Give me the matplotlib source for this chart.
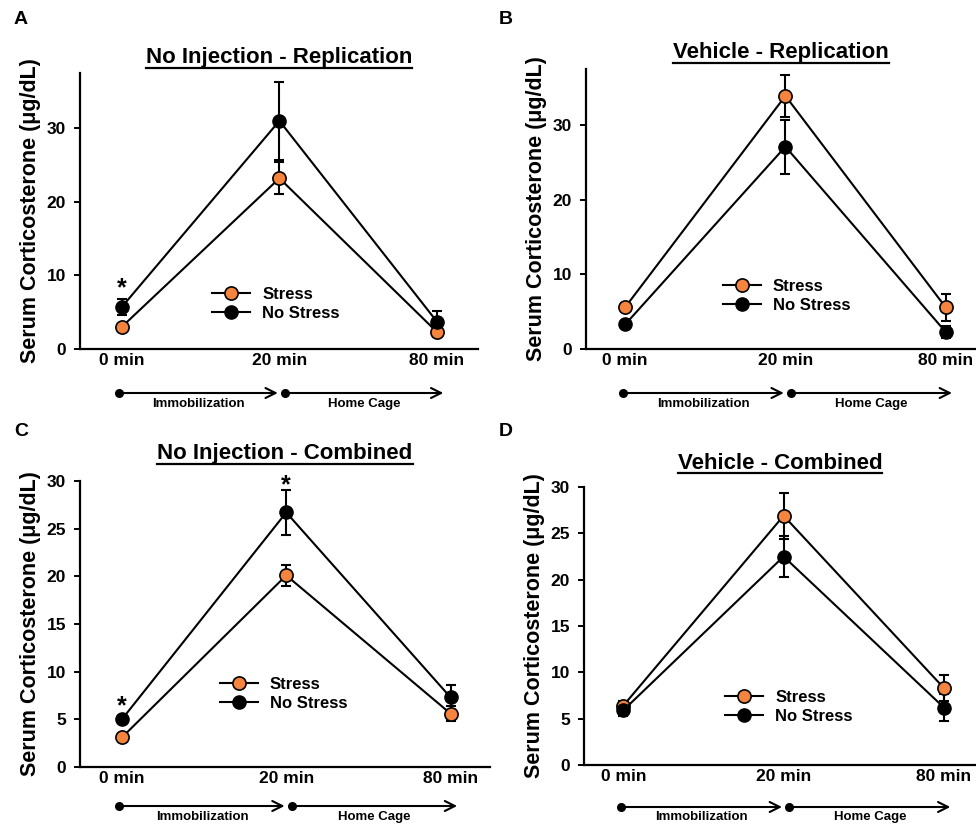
import numpy as np
import matplotlib.pyplot as plt
from matplotlib.transforms import blended_transform_factory
from matplotlib.lines import Line2D

plt.rcParams['font.family'] = ['Liberation Sans', 'DejaVu Sans']
plt.rcParams['font.weight'] = 'bold'

# data
times = ['0 min', '20 min', '80 min']
panel_letters = ['A', 'B', 'C', 'D']
titles = ['No Injection - Replication', 'Vehicle - Replication',
          'No Injection - Combined', 'Vehicle - Combined']

stress_mean = [[3.0, 23.2, 2.3], [5.6, 33.9, 5.6], [3.1, 20.1, 5.6], [6.4, 26.9, 8.3]]
stress_err = [[0.4, 2.2, 0.5], [0.5, 2.8, 1.8], [0.4, 1.1, 0.8], [0.5, 2.5, 1.4]]
nostress_mean = [[5.7, 31.0, 3.7], [3.3, 27.1, 2.3], [5.0, 26.7, 7.3], [5.9, 22.5, 6.2]]
nostress_err = [[1.1, 5.3, 1.4], [0.5, 3.6, 0.8], [0.4, 2.4, 1.3], [0.6, 2.2, 1.5]]

# significance stars (x index, y value)
star_x = [[0], [], [0, 1], []]
star_y = [[8.2], [], [6.4, 29.6], []]

ymax = [37.5, 37.5, 30, 30]
ystep = [10, 10, 5, 5]

W, H = 976, 826
orange = '#F5843F'

# axes rectangles in pixels: left, right, top, bottom
rects_px = [(80, 478, 73, 349), (586, 976, 69, 349), (80, 490, 481, 767), (584, 976, 487, 765)]
xlims = [(-0.265, 2.26), (-0.245, 2.19), (-0.255, 2.24), (-0.245, 2.2)]
title_y = [1.055, 1.058, 1.095, 1.086]
legend_anchor = [(0.332, 0.163), (0.351, 0.189), (0.341, 0.256), (0.36, 0.208)]
timeline_off = [(44, 55), (44, 55), (39, 50), (42, 52)]

fig = plt.figure(figsize=(W / 100, H / 100), dpi=100)
axes = []
for i in range(4):
    l, r, t, b = rects_px[i]
    ax = fig.add_axes([l / W, 1 - b / H, (r - l) / W, (b - t) / H])
    axes.append(ax)
    x = np.arange(len(times))

    ax.errorbar(x, stress_mean[i], yerr=stress_err[i], fmt='none', ecolor='black',
                elinewidth=1.5, capsize=3.5, capthick=1.5, zorder=2, clip_on=False)
    ax.errorbar(x, nostress_mean[i], yerr=nostress_err[i], fmt='none', ecolor='black',
                elinewidth=1.5, capsize=3.5, capthick=1.5, zorder=2, clip_on=False)
    l1, = ax.plot(x, stress_mean[i], '-o', color='black', lw=1.5, mfc=orange, mec='black',
                  mew=1.2, ms=9.5, zorder=3, label='Stress', clip_on=False)
    l2, = ax.plot(x, nostress_mean[i], '-o', color='black', lw=1.5, mfc='black', mec='black',
                  ms=9.5, zorder=4, label='No Stress', clip_on=False)

    for sx, sy in zip(star_x[i], star_y[i]):
        ax.text(sx, sy, '*', ha='center', va='center', fontsize=18, fontweight='bold')

    ax.set_xlim(*xlims[i])
    ax.set_ylim(0, ymax[i])
    ax.set_yticks(np.arange(0, ymax[i] + 0.1, ystep[i]))
    ax.set_xticks(x)
    ax.set_xticklabels(times)
    ax.spines['top'].set_visible(False)
    ax.spines['right'].set_visible(False)
    ax.spines['left'].set_linewidth(1.6)
    ax.spines['bottom'].set_linewidth(1.6)
    ax.tick_params(axis='y', direction='out', length=4, width=1.4, labelsize=12.5, pad=6)
    ax.tick_params(axis='x', length=0, labelsize=12.5, pad=3)
    for lab in ax.get_xticklabels() + ax.get_yticklabels():
        lab.set_fontweight('bold')
    ax.set_ylabel('Serum Corticosterone (\u03bcg/dL)', fontsize=15.5, fontweight='bold', labelpad=4)

    ax.legend(handles=[l1, l2], loc='center left', bbox_to_anchor=legend_anchor[i],
              frameon=False, handlelength=2.3, handletextpad=0.7,
              labelspacing=0.25, borderpad=0, borderaxespad=0, prop={'weight': 'bold', 'size': 12})

    ax.text(0.5, title_y[i], titles[i], transform=ax.transAxes, ha='center', va='center',
            fontsize=16, fontweight='bold')

    # timeline below the axis
    ah = b - t
    tr = blended_transform_factory(ax.transData, ax.transAxes)
    ya = -timeline_off[i][0] / ah
    yl = -timeline_off[i][1] / ah
    segs = [(-0.015, 0.99), (1.035, 2.04)]
    seg_labels = ['Immobilization', 'Home Cage']
    for (x0, x1), sl in zip(segs, seg_labels):
        ax.annotate('', xy=(x1, ya), xytext=(x0, ya), xycoords=tr, textcoords=tr,
                    arrowprops=dict(arrowstyle='->', lw=1.5, color='black',
                                    mutation_scale=18, shrinkA=0, shrinkB=0),
                    annotation_clip=False)
        ax.plot([x0], [ya], 'o', color='black', ms=5.5, transform=tr, clip_on=False)
        ax.text((x0 + x1) / 2, yl, sl, transform=tr, ha='center', va='center',
                fontsize=9.5, fontweight='bold')

# panel letters
letter_px = [(21, 20), (506, 20), (21, 432), (506, 432)]
for (px, py), lt in zip(letter_px, panel_letters):
    fig.text(px / W, 1 - py / H, lt, ha='center', va='center', fontsize=14, fontweight='bold')

# underline titles
fig.canvas.draw()
renderer = fig.canvas.get_renderer()
for ax in axes:
    for t in ax.texts:
        if t.get_text() in titles:
            bb = t.get_window_extent(renderer)
            yy = bb.y0 + 0.5
            fig.add_artist(Line2D([bb.x0 / W, bb.x1 / W], [yy / H, yy / H],
                                  transform=fig.transFigure, color='black', lw=1.6))

fig.savefig('out.png', dpi=100)
